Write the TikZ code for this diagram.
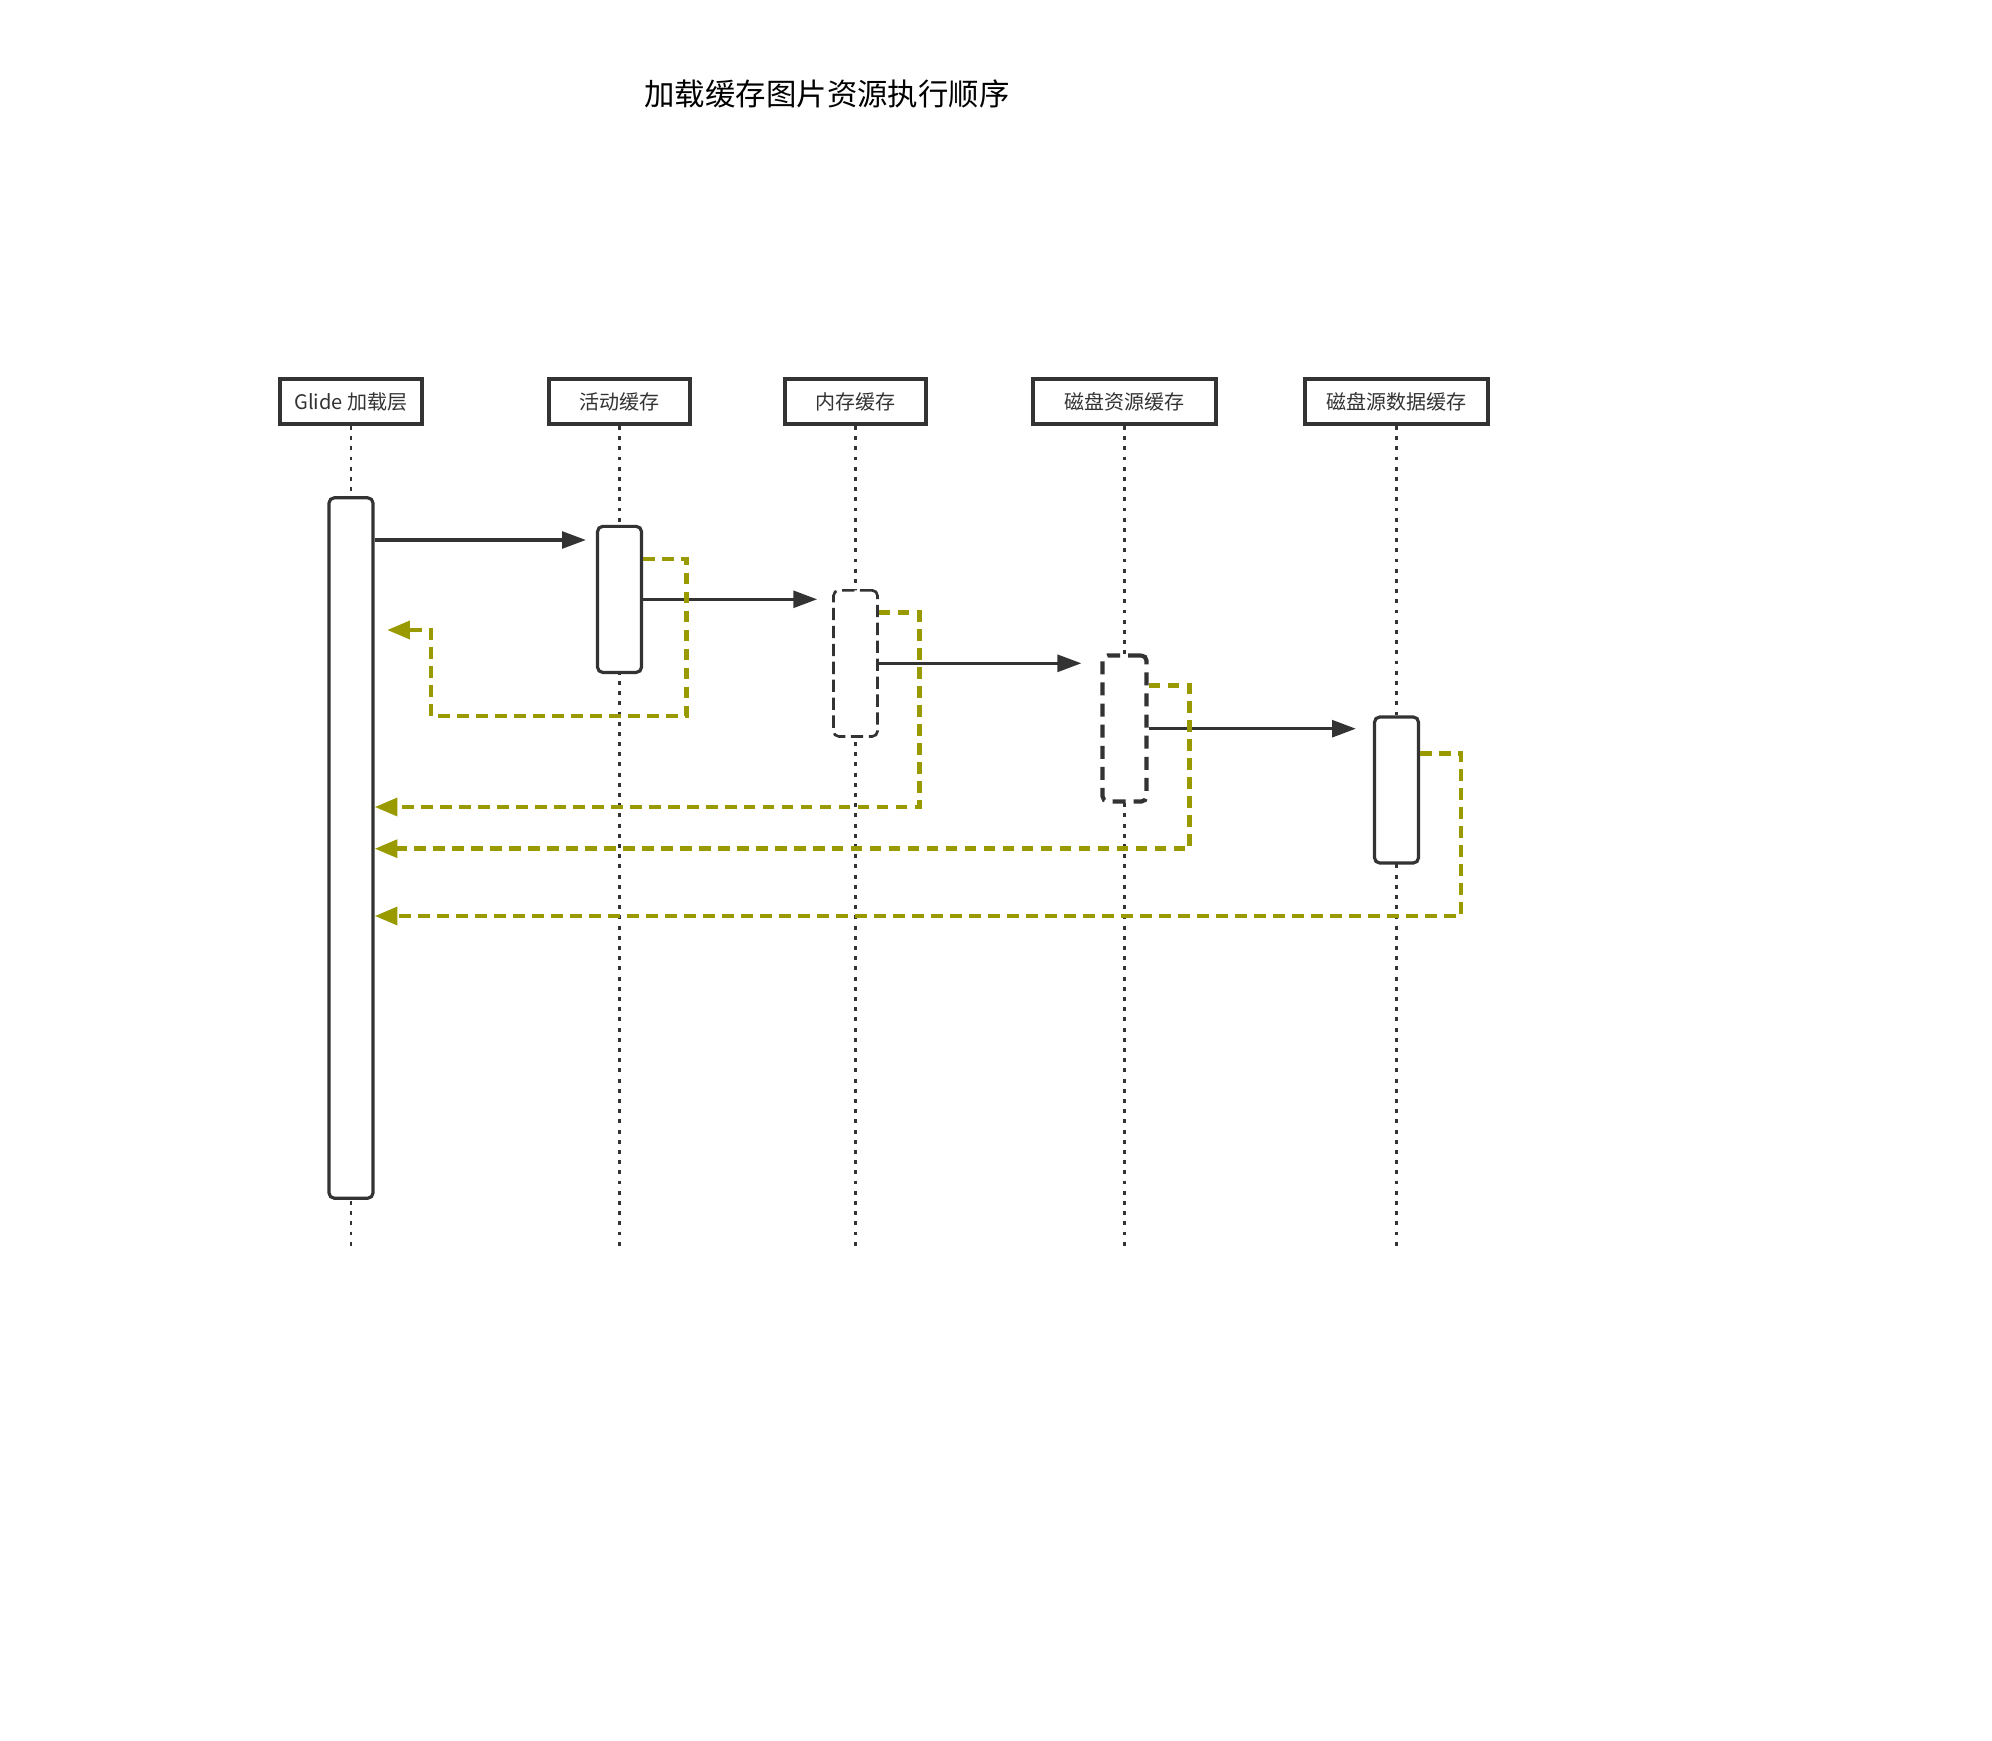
\documentclass[tikz,border=0pt]{standalone}
\usepackage{fontspec}
\newfontfamily\cjk{Noto Sans CJK SC}
\usetikzlibrary{arrows.meta,calc}
\definecolor{dark}{HTML}{333333}
\definecolor{olive}{HTML}{999900}
\begin{document}
\begin{tikzpicture}[x=0.01cm,y=-0.01cm,
  head/.style={draw=dark,line width=1.1pt,minimum width=1.41cm,minimum height=.45cm,inner sep=0pt,
    text=dark,font=\cjk\fontsize{5.7pt}{6.5pt}\selectfont},
  lifeline/.style={dark,line width=.7pt,dash pattern=on 1.1pt off 1.8pt},
  bar/.style={draw=dark,fill=white,line width=.9pt,rounded corners=1.5pt,minimum width=.44cm,
    minimum height=1.46cm,inner sep=0pt},
  call/.style={dark,line width=.9pt,-{Triangle[length=6.8pt,width=4.8pt]}},
  ret/.style={olive,line width=1.3pt,dash pattern=on 3.3pt off 2.1pt,-{Triangle[length=6.5pt,width=5pt]}}]
\useasboundingbox (0,0) rectangle (1992,1740);
\node[font=\cjk\fontsize{8.65pt}{10pt}\selectfont] (title) at (827,94) {加载缓存图片资源执行顺序};

% heads
\node[head,minimum width=1.42cm] (hglide) at (351,401.5) {Glide 加载层};
\node[head] (hactive) at (619.5,401.5) {活动缓存};
\node[head] (hmem) at (855.5,401.5) {内存缓存};
\node[head,minimum width=1.83cm] (hdiskres) at (1124.5,401.5) {磁盘资源缓存};
\node[head,minimum width=1.83cm] (hdiskdata) at (1396.5,401.5) {磁盘源数据缓存};

% lifelines
\coordinate (eglide) at (351,1248);
\coordinate (eactive) at (619.5,1248);
\coordinate (emem) at (855.5,1248);
\coordinate (ediskres) at (1124.5,1248);
\coordinate (ediskdata) at (1396.5,1248);
\draw[lifeline] (hglide.south) -- (eglide);
\draw[lifeline] (hactive.south) -- (eactive);
\draw[lifeline] (hmem.south) -- (emem);
\draw[lifeline] (hdiskres.south) -- (ediskres);
\draw[lifeline] (hdiskdata.south) -- (ediskdata);

% bars
\node[bar,minimum height=7cm] (bglide) at (351,848) {};
\node[bar] (bactive) at (619.5,599.4) {};
\node[bar,line width=.75pt,dash pattern=on 3.5pt off 1.6pt] (bmem) at (855.5,663.4) {};
\node[bar,line width=1.2pt,dash pattern=on 3.7pt off 2.3pt] (bdiskres) at (1124.5,728.5) {};
\node[bar] (bdiskdata) at (1396.5,790) {};

% calls
\draw[call] (bglide.east |- 0,540) -- ($(bactive.west |- 0,540)+(-10,0)$);
\draw[call] (bactive.east |- 0,599.3) -- ($(bmem.west |- 0,599.3)+(-15,0)$);
\draw[call] (bmem.east |- 0,663.3) -- ($(bdiskres.west |- 0,663.3)+(-19,0)$);
\draw[call] (bdiskres.east |- 0,728.7) -- ($(bdiskdata.west |- 0,728.7)+(-17,0)$);

% returns
\coordinate (rtip) at (387,630);
\draw[ret] (bactive.east |- 0,559) -| (686.4,716) -| (431,630) -- (rtip);
\draw[ret] (bmem.east |- 0,612.7) -| (919.4,807) -- (bglide.east |- 0,807);
\draw[ret] (bdiskres.east |- 0,685.3) -| (1189.7,848.7) -- (bglide.east |- 0,848.7);
\draw[ret] (bdiskdata.east |- 0,753.3) -| (1460.9,916) -- (bglide.east |- 0,916);
\end{tikzpicture}
\end{document}
